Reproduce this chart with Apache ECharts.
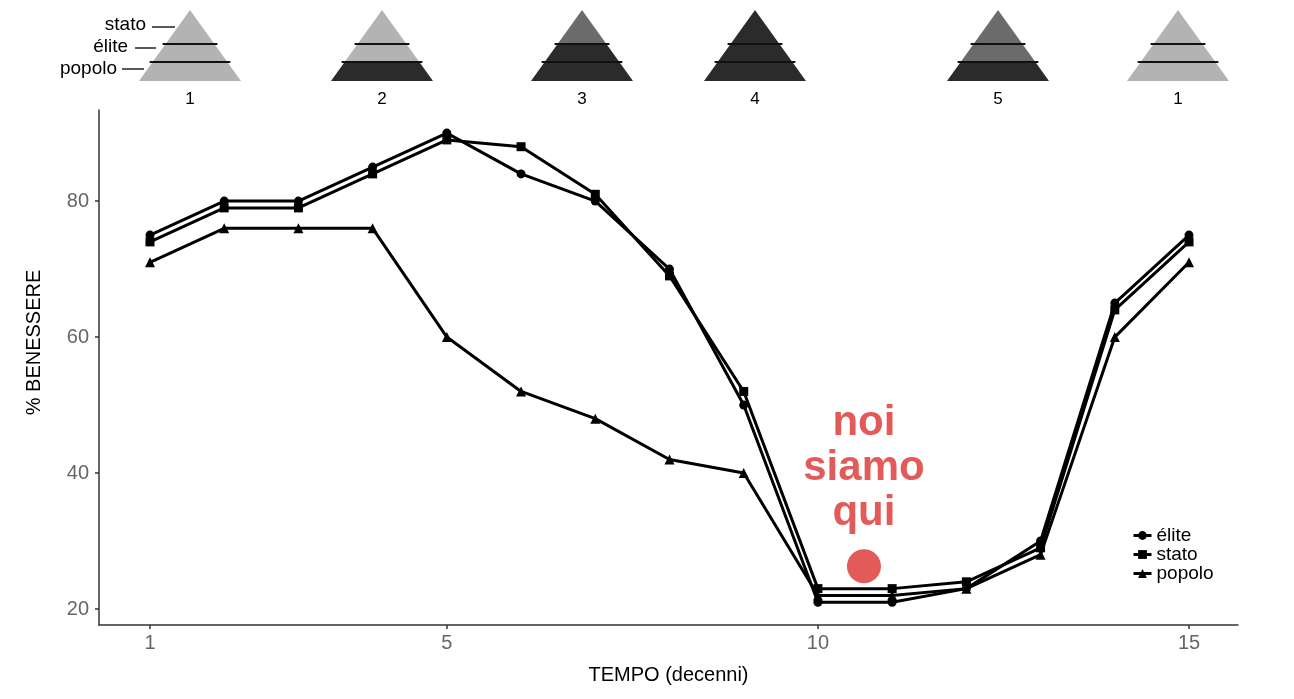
<!DOCTYPE html>
<html><head><meta charset="utf-8">
<script src="https://cdn.jsdelivr.net/npm/echarts@6/dist/echarts.min.js"></script>
<style>html,body{margin:0;padding:0;background:#fff}#c{width:1294px;height:699px}</style>
</head><body><div id="c"></div><script>
// ---- data ----
const decades = [1,2,3,4,5,6,7,8,9,10,11,12,13,14,15];
const elite  = [75,80,80,85,90,84,80,70,50,21,21,23,30,65,75];
const stato  = [74,79,79,84,89,88,81,69,52,23,23,24,29,64,74];
const popolo = [71,76,76,76,60,52,48,42,40,22,22,23,28,60,71];
const xTicks = [1,5,10,15];
const yTicks = [20,40,60,80];
const herePoint = [10.62, 26.3];
const hereText = 'noi\nsiamo\nqui';
const seriesNames = ['élite','stato','popolo'];
const phaseLabels = ['1','2','3','4','5','1'];
// shade of each pyramid band: [stato (top), élite (middle), popolo (bottom)]
const phaseShades = [
  ['light','light','light'],
  ['light','light','dark'],
  ['mid','dark','dark'],
  ['dark','dark','dark'],
  ['mid','mid','dark'],
  ['light','light','light']
];
const layerNames = ['stato','élite','popolo'];

// ---- layout / style ----
const shadeColor = {light:'#b3b3b3', mid:'#6b6b6b', dark:'#2b2b2b'};
const pyrCenters = [190, 382, 582, 755, 998, 1178];
const apexY = 10, baseY = 81, halfBase = 51, cuts = [44, 62];
const font = '"Liberation Sans", Arial, Helvetica, sans-serif';

function hw(y){ return halfBase * (y - apexY) / (baseY - apexY); }
const graphics = [];
pyrCenters.forEach((cx, p) => {
  const ys = [apexY, cuts[0], cuts[1], baseY];
  for (let b = 0; b < 3; b++) {
    const y0 = ys[b], y1 = ys[b+1];
    const pts = b === 0
      ? [[cx, y0], [cx + hw(y1), y1], [cx - hw(y1), y1]]
      : [[cx - hw(y0), y0], [cx + hw(y0), y0], [cx + hw(y1), y1], [cx - hw(y1), y1]];
    graphics.push({type:'polygon', shape:{points:pts}, style:{fill:shadeColor[phaseShades[p][b]]}, silent:true});
  }
  cuts.forEach(y => {
    graphics.push({type:'line', shape:{x1:cx - hw(y) - 3, y1:y, x2:cx + hw(y) + 3, y2:y}, style:{stroke:'#111', lineWidth:2}, silent:true});
  });
  graphics.push({type:'text', x:cx, y:99, style:{text:phaseLabels[p], fill:'#000', font:'17px ' + font, align:'center', verticalAlign:'middle'}});
});
// labels of the first pyramid
const labelPos = [[146, 25, 152, 175, 27], [128, 47, 135, 156, 48], [117, 69, 122, 144, 69]];
labelPos.forEach((lp, i) => {
  graphics.push({type:'text', x:lp[0], y:lp[1], style:{text:layerNames[i], fill:'#000', font:'19px ' + font, align:'right', verticalAlign:'middle'}});
  graphics.push({type:'line', shape:{x1:lp[2], y1:lp[4], x2:lp[3], y2:lp[4]}, style:{stroke:'#000', lineWidth:1.3}});
});

const symbols = ['circle','rect','triangle'];
const values = [elite, stato, popolo];
const series = values.map((vals, k) => ({
  name: seriesNames[k],
  type: 'line',
  data: decades.map((d, i) => [d, vals[i]]),
  symbol: symbols[k],
  symbolSize: k === 2 ? 10 : 9,
  showSymbol: true,
  lineStyle: {color:'#000', width:3},
  itemStyle: {color:'#000'},
  z: 3
}));
series.push({
  type: 'scatter',
  data: [herePoint],
  symbolSize: 34,
  itemStyle: {color:'#e35b58', opacity:1},
  label: {show:true, position:'top', distance:13, formatter: hereText, color:'#e35b58',
          fontSize:42, fontWeight:'bold', fontFamily:font, lineHeight:45, align:'center'},
  z: 4
});

const chart = echarts.init(document.getElementById('c'), null, {renderer:'canvas'});
chart.setOption({
  backgroundColor:'#fff',
  animation:false,
  textStyle:{fontFamily:font},
  grid:{left:99, right:56, top:110, bottom:74, containLabel:false},
  xAxis:{
    type:'value', min:0.313, max:15.66,
    name:'TEMPO (decenni)', nameLocation:'middle', nameGap:40,
    nameTextStyle:{color:'#000', fontSize:20, fontFamily:font},
    axisLine:{show:true, lineStyle:{color:'#333', width:1.5}},
    axisTick:{show:true, customValues:xTicks, length:4, lineStyle:{color:'#333', width:1.5}},
    axisLabel:{customValues:xTicks, color:'#666', fontSize:20, margin:8, fontFamily:font},
    splitLine:{show:false}
  },
  yAxis:{
    type:'value', min:17.65, max:93.4,
    name:'% BENESSERE', nameLocation:'middle', nameGap:55, nameRotate:90,
    nameTextStyle:{color:'#000', fontSize:20, fontFamily:font, padding:[0,0,0,50]},
    axisLine:{show:true, lineStyle:{color:'#333', width:1.5}},
    axisTick:{show:true, customValues:yTicks, length:4, lineStyle:{color:'#333', width:1.5}},
    axisLabel:{customValues:yTicks, color:'#666', fontSize:20, margin:10, fontFamily:font},
    splitLine:{show:false}
  },
  legend:{
    data:seriesNames, orient:'vertical', left:1127, top:521,
    itemWidth:18, itemHeight:11, itemGap:0,
    lineStyle:{width:3},
    textStyle:{color:'#000', fontSize:19, lineHeight:18, fontFamily:font}
  },
  graphic: graphics,
  series: series
});
</script></body></html>
